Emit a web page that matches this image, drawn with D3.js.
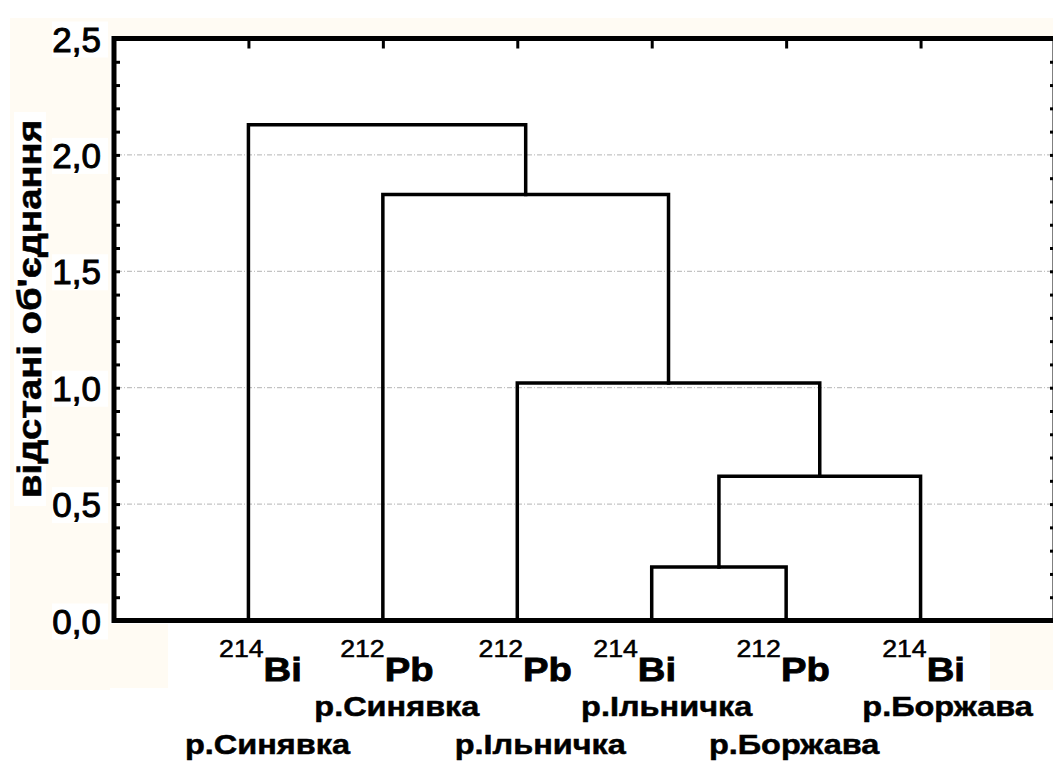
<!DOCTYPE html>
<html>
<head>
<meta charset="utf-8">
<script src="https://cdn.jsdelivr.net/npm/d3@7"></script>
<style>
  html, body { margin: 0; padding: 0; background: #fff; }
  svg { display: block; }
</style>
</head>
<body>
<svg id="chart" width="1053" height="762"></svg>
<script>
// Dendrogram leaves, left to right
const leafMass = ["214", "212", "212", "214", "212", "214"];
const leafElement = ["Bi", "Pb", "Pb", "Bi", "Pb", "Bi"];
const leafRiver = ["р.Синявка", "р.Синявка", "р.Ільничка", "р.Ільничка", "р.Боржава", "р.Боржава"];

// Agglomeration steps: nodes 0–5 are the leaves, step k creates node 6 + k
const joinLeft = [3, 6, 2, 1, 0];
const joinRight = [4, 5, 7, 8, 9];
const joinDistance = [0.23, 0.62, 1.02, 1.83, 2.13];

// Vertical axis
const yMajorValues = [0, 0.5, 1, 1.5, 2, 2.5];
const yMajorLabels = ["0,0", "0,5", "1,0", "1,5", "2,0", "2,5"];
const yTitle = "відстані об'єднання";

// ---- layout ----
const FONT = "'Liberation Sans', Arial, sans-serif";
const STRETCH = 1.16;              // labels use a slightly widened face
const massShift = [12, 4, 8, -17, -3, 3];
const riverShift = [19, 14, 23, 15, 8, 27];

const svg = d3.select("#chart");
const x = d3.scaleLinear().domain([0, 7]).range([114, 1055]);
const y = d3.scaleLinear().domain([0, 2.5]).range([620.5, 38.5]);

// faint cream paper areas behind the axes
const paper = "#fffbf3";
svg.append("rect").attr("x", 10).attr("y", 18).attr("width", 1043).attr("height", 18).attr("fill", paper);
svg.append("rect").attr("x", 10).attr("y", 18).attr("width", 100).attr("height", 672).attr("fill", paper);
svg.append("rect").attr("x", 100).attr("y", 624).attr("width", 68).attr("height", 64).attr("fill", paper);
svg.append("rect").attr("x", 990).attr("y", 624).attr("width", 63).attr("height", 66).attr("fill", paper);
svg.append("rect").attr("x", 14).attr("y", 112).attr("width", 32).attr("height", 394).attr("fill", "#fff");
yMajorValues.forEach(v => {
  svg.append("rect").attr("x", 52).attr("y", y(v) - 17).attr("width", 56).attr("height", 36).attr("fill", "#fff");
});

// grid lines at major ticks
svg.append("g").selectAll("line")
  .data(yMajorValues.filter(v => v > 0 && v < 2.5))
  .join("line")
  .attr("x1", x(0) + 3).attr("x2", x(7))
  .attr("y1", d => y(d)).attr("y2", d => y(d))
  .attr("stroke", "#b4b4b4").attr("stroke-width", 1)
  .attr("stroke-dasharray", "5,2,1,2");

// axes
const minorTicks = d3.range(0, 26).map(i => i / 10);
const labelFor = v => {
  const i = yMajorValues.findIndex(m => Math.abs(m - v) < 1e-9);
  return i >= 0 ? yMajorLabels[i] : "";
};

const axisL = svg.append("g").attr("transform", `translate(${x(0)},0)`)
  .call(d3.axisLeft(y).tickValues(minorTicks).tickSizeInner(-6).tickSizeOuter(0)
    .tickPadding(13).tickFormat(labelFor));
const axisR = svg.append("g").attr("transform", `translate(${x(7)},0)`)
  .call(d3.axisRight(y).tickValues(minorTicks).tickSizeInner(-5).tickSizeOuter(0).tickFormat(""));
const axisT = svg.append("g").attr("transform", `translate(0,${y(2.5)})`)
  .call(d3.axisTop(x).tickValues(d3.range(1, 7)).tickSizeInner(-10).tickSizeOuter(0).tickFormat(""));

[axisL, axisR, axisT].forEach(g => {
  g.select(".domain").remove();
  g.selectAll(".tick line").attr("stroke", "#000").attr("stroke-width", 3);
});
axisL.selectAll(".tick text")
  .attr("font-family", FONT).attr("font-size", 35).attr("fill", "#000")
  .attr("stroke", "#000").attr("stroke-width", 1)
  .attr("dy", "0.36em");

// plot frame
svg.append("rect")
  .attr("x", x(0)).attr("y", y(2.5))
  .attr("width", x(7) - x(0)).attr("height", y(0) - y(2.5))
  .attr("fill", "none").attr("stroke", "#000").attr("stroke-width", 5);

// dendrogram links
const nodeX = leafMass.map((_, i) => i + 1);
const nodeH = leafMass.map(() => 0);
const links = svg.append("g")
  .attr("fill", "none").attr("stroke", "#000").attr("stroke-width", 3.5)
  .attr("stroke-linecap", "square");
joinDistance.forEach((h, k) => {
  const a = joinLeft[k], b = joinRight[k];
  const path = d3.path();
  path.moveTo(x(nodeX[a]), y(nodeH[a]));
  path.lineTo(x(nodeX[a]), y(h));
  path.lineTo(x(nodeX[b]), y(h));
  path.lineTo(x(nodeX[b]), y(nodeH[b]));
  links.append("path").attr("d", path.toString());
  nodeX.push((nodeX[a] + nodeX[b]) / 2);
  nodeH.push(h);
});

// leaf labels: isotope on the first line, river below on alternating lines
leafMass.forEach((m, i) => {
  const cx = x(i + 1);
  const iso = svg.append("text")
    .attr("transform", `translate(${cx + massShift[i]},657) scale(${STRETCH},1)`)
    .attr("text-anchor", "middle").attr("font-family", FONT).attr("fill", "#000")
    .attr("stroke", "#000");
  iso.append("tspan").attr("font-size", 23).attr("stroke-width", 0.5).text(m);
  iso.append("tspan").attr("font-size", 33).attr("font-weight", "bold")
    .attr("stroke-width", 0.8).attr("dy", 24).text(leafElement[i]);

  const rowY = i % 2 === 1 ? 716 : 754;
  svg.append("text")
    .attr("transform", `translate(${cx + riverShift[i]},${rowY}) scale(${STRETCH},1)`)
    .attr("text-anchor", "middle").attr("font-family", FONT)
    .attr("font-size", 28).attr("font-weight", "bold").attr("fill", "#000")
    .attr("stroke", "#000").attr("stroke-width", 0.5)
    .text(leafRiver[i]);
});

// axis title
svg.append("text")
  .attr("transform", `translate(41,309) rotate(-90) scale(${STRETCH},1)`)
  .attr("text-anchor", "middle").attr("font-family", FONT)
  .attr("font-size", 33).attr("font-weight", "bold").attr("fill", "#000")
  .attr("stroke", "#000").attr("stroke-width", 0.5)
  .text(yTitle);
</script>
</body>
</html>
